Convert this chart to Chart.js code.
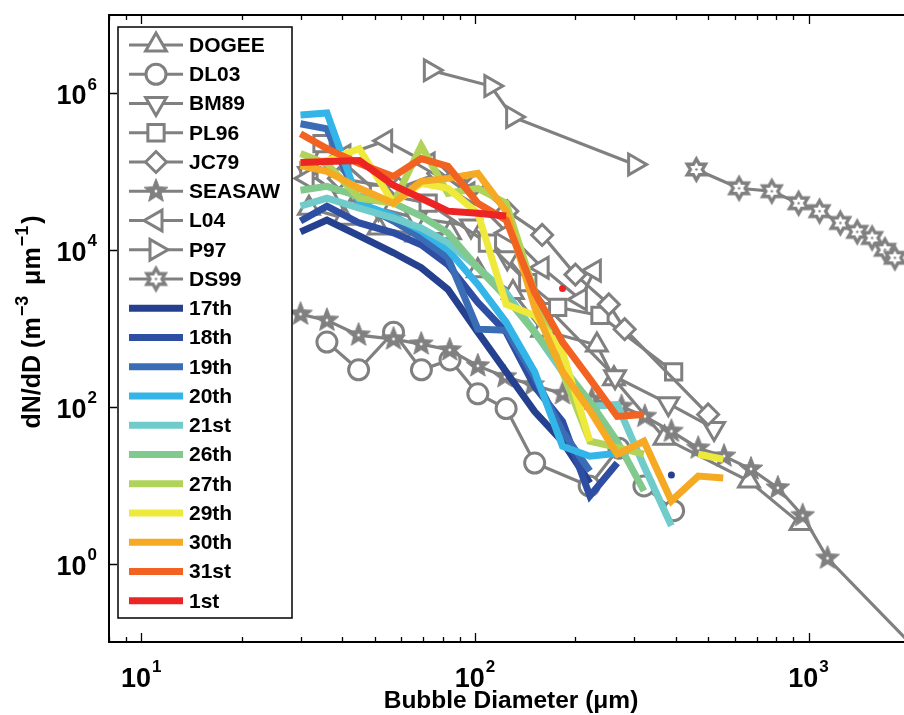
<!DOCTYPE html>
<html><head><meta charset="utf-8">
<script src="https://cdn.jsdelivr.net/npm/chart.js@4/dist/chart.umd.min.js"></script>
<style>html,body{margin:0;padding:0;background:#fff;overflow:hidden}#wrap{position:relative;width:924px;height:715px}</style>
</head><body><div id="wrap"><canvas id="c" width="924" height="715"></canvas></div>
<script>
// ---- measured data (bubble diameter in µm, dN/dD in m^-3 µm^-1) ----
const bins = [30,36,45,57,69,83,102,124,151,183,221,267,321,388,467,555];
const n17 = [1.71e4,2.42e4,1.52e4,9.25e3,5.97e3,3.15e3,898,280,87,36,10.7,null,null,13.5,null,null];
const n18 = [2.35e4,3.64e4,2.22e4,1.66e4,1.17e4,6.52e3,2.15e3,898,181,65,7.3,19.2,null,null,null,null];
const n19 = [4.09e5,3.53e5,3.97e4,2.35e4,1.43e4,8.0e3,980,951,242,48.7,15.2,null,null,null,null,null];
const n20 = [5.31e5,5.63e5,3.97e4,2.72e4,1.76e4,1.01e4,3.64e3,1.2e3,280,31.5,23.5,25.6,null,null,null,null];
const n21 = [3.64e4,4.59e4,3.43e4,2.56e4,1.92e4,1.24e4,5.97e3,2.88e3,898,280,101,107,17.6,3.05,null,null];
const n26 = [5.8e4,6.52e4,4.87e4,3.97e4,2.72e4,1.66e4,5.97e3,2.49e3,898,324,117,36.4,8.47,null,null,null];
const n27 = [1.71e5,1.27e5,4.59e4,3.97e4,2.15e5,5.31e4,6.15e4,3.97e4,2.88e3,280,36.4,30.4,24.9,null,null,null];
const n29 = [1.27e5,1.39e5,1.97e5,3.97e4,7.11e4,6.15e4,2.96e4,2.03e3,1.47e3,501,36.4,null,null,null,24.9,21.5];
const n30 = [1.2e5,1.01e5,6.15e4,3.97e4,7.54e4,8.23e4,9.52e4,3.14e4,1.86e3,280,90,24.9,36.4,6.33,13.1,12.4];
const n31 = [3.05e5,1.97e5,1.27e5,8.72e4,1.47e5,1.17e5,3.97e4,2.42e4,2.88e3,671,228,75.4,80,null,null,null];
const n1  = [1.31e5,1.35e5,1.39e5,6.71e4,4.59e4,3.14e4,2.96e4,2.72e4,null,3.24e3,null,null,null,null,null,null];

const dogeeD = [31.8,40.5,51.4,66.7,84.2,102,130,159,232,261,370,663,946];
const dogeeN = [3.43e4,2.56e4,1.92e4,1.56e4,1.66e4,5.47e3,2.88e3,951,615,228,39.7,11.3,3.24];
const dl03D = [36,44.8,57,69.1,84.2,102,124,151,220,270,321,394];
const dl03N = [671,297,898,297,397,147,95.2,19.2,9.8,29.7,9.8,4.73];
const bm89D = [31.8,40.5,51.4,66.7,97.3,125,167,263,380,521];
const bm89N = [9.52e4,4.59e4,3.43e4,2.56e4,2.03e4,8.0e3,1.75e3,242,110,53.1];
const pl96D = [31.8,34.8,51.4,72.4,109,144,177,237,394];
const pl96N = [1.04e5,2.28e5,5.31e4,3.97e4,1.23e4,3.85e3,1.86e3,1.47e3,280];
const jc79D = [39.1,59,77.6,100.7,125,159,200,252,281,500];
const jc79N = [8.23e4,6.15e4,9.52e4,7.11e4,3.14e4,1.56e4,4.87e3,2.03e3,980,80];
const seasawD = [30,36,44.8,57,69,84,102,123,149,183,224,275,323,388,467,558,672,809,960,1140,2000];
const seasawN = [1.52e3,1.27e3,823,733,633,531,333,242,191,147,124,101,75.4,48.7,29.7,23.5,16.1,9.25,4.09,1.17,0.1];
const l04D = [31.4,40.5,54,72.4,95.3,125,159,207,228];
const l04N = [8.23e4,1.61e5,2.49e5,1.27e5,5.31e4,1.66e4,5.97e3,2.35e3,5.47e3];
const p97D = [73.5,111.6,129.7,301];
const p97N = [1.97e6,1.24e6,5.0e5,1.24e5];
const ds99D = [461,619,776,934,1079,1245,1399,1550,1694,1815];
const ds99N = [1.07e5,6.15e4,5.64e4,3.97e4,3.14e4,2.22e4,1.71e4,1.43e4,1.01e4,7.98e3];

const xTicks = [10,100,1000];
const yTicks = [1,100,1e4,1e6];

// ---- styles ----
const GRAY = '#808080';
const FONT = '"Liberation Sans", Arial, Helvetica, sans-serif';

function starCanvas(points, outer, inner, fill, stroke, lw, dot, dotColor){
  const s = Math.ceil(outer*2 + lw + 4);
  const c = document.createElement('canvas'); c.width = s; c.height = s;
  const g = c.getContext('2d'); g.translate(s/2, s/2);
  g.beginPath();
  for (let i = 0; i < points*2; i++) {
    const r = i % 2 ? inner : outer;
    const a = -Math.PI/2 + i*Math.PI/points;
    g.lineTo(r*Math.cos(a), r*Math.sin(a));
  }
  g.closePath();
  g.fillStyle = fill; g.fill();
  if (stroke) { g.lineJoin = 'miter'; g.strokeStyle = stroke; g.lineWidth = lw; g.stroke(); }
  if (dot) { g.fillStyle = dotColor; g.beginPath(); g.arc(0,0,dot,0,Math.PI*2); g.fill(); }
  return c;
}
const pentagram = starCanvas(5, 12.5, 5.4, GRAY, GRAY, 1, 1.4, '#fff');
const hexagram = starCanvas(6, 10.5, 6, '#fff', GRAY, 3.4, 1.2, GRAY);

const zip = (xs, ys) => xs.map((v, i) => ({x: v, y: ys[i]}));

const grayDefs = [
  {label:'DOGEE', d:dogeeD, n:dogeeN, style:'triangle', rot:0, r:12},
  {label:'DL03', d:dl03D, n:dl03N, style:'circle', rot:0, r:10},
  {label:'BM89', d:bm89D, n:bm89N, style:'triangle', rot:180, r:12},
  {label:'PL96', d:pl96D, n:pl96N, style:'rect', rot:0, r:11.5},
  {label:'JC79', d:jc79D, n:jc79N, style:'rectRot', rot:0, r:10.5},
  {label:'SEASAW', d:seasawD, n:seasawN, style:pentagram, rot:0, r:10},
  {label:'L04', d:l04D, n:l04N, style:'triangle', rot:-90, r:12},
  {label:'P97', d:p97D, n:p97N, style:'triangle', rot:90, r:12},
  {label:'DS99', d:ds99D, n:ds99N, style:hexagram, rot:0, r:10},
];
const colorDefs = [
  {label:'17th', n:n17, c:'#24408f'},
  {label:'18th', n:n18, c:'#2d4ea3'},
  {label:'19th', n:n19, c:'#3b6cb6'},
  {label:'20th', n:n20, c:'#33b5e8'},
  {label:'21st', n:n21, c:'#6fcccb'},
  {label:'26th', n:n26, c:'#82c98e'},
  {label:'27th', n:n27, c:'#b1d35a'},
  {label:'29th', n:n29, c:'#efe93b'},
  {label:'30th', n:n30, c:'#f6a923'},
  {label:'31st', n:n31, c:'#f26322'},
  {label:'1st', n:n1, c:'#ed2424'},
];

const total = grayDefs.length + colorDefs.length;
const datasets = [];
grayDefs.forEach((g, i) => {
  const last = g.d.length - 1;
  datasets.push({
    label: g.label, data: zip(g.d, g.n),
    borderColor: GRAY, borderWidth: 3.2, tension: 0, fill: false,
    pointStyle: g.style, pointRotation: g.rot,
    pointRadius: (g.label === 'SEASAW') ? (ctx => ctx.dataIndex === last ? 0 : g.r) : g.r,
    pointBorderWidth: 3, pointBorderColor: GRAY, pointBackgroundColor: '#fff',
    order: total - i, clip: 0
  });
});
colorDefs.forEach((s, j) => {
  datasets.push({
    label: s.label, data: zip(bins, s.n),
    borderColor: s.c, backgroundColor: s.c, borderWidth: 7, tension: 0, fill: false,
    borderCapStyle: 'butt', borderJoinStyle: 'miter', spanGaps: false,
    pointStyle: 'circle', pointBorderWidth: 0, pointBackgroundColor: s.c,
    pointRadius: ctx => {
      const d = ctx.dataset.data, i = ctx.dataIndex;
      if (d[i].y == null) return 0;
      const p = i > 0 && d[i-1].y != null, q = i < d.length-1 && d[i+1].y != null;
      return (!p && !q) ? 3.5 : 0;
    },
    order: total - grayDefs.length - j, clip: 0
  });
});

function drawSupLabel(ctx, base, sup, x, y, align, bigSize, supSize){
  ctx.font = 'bold ' + bigSize + 'px ' + FONT;
  const wb = ctx.measureText(base).width;
  ctx.font = 'bold ' + supSize + 'px ' + FONT;
  const ws = ctx.measureText(sup).width;
  const w = wb + ws + 1;
  let x0 = align === 'center' ? x - w/2 : (align === 'right' ? x - w : x);
  ctx.textAlign = 'left'; ctx.textBaseline = 'alphabetic';
  ctx.font = 'bold ' + bigSize + 'px ' + FONT;
  ctx.fillText(base, x0, y);
  ctx.font = 'bold ' + supSize + 'px ' + FONT;
  ctx.fillText(sup, x0 + wb + 1, y - bigSize*0.55);
}

const decor = {
  id: 'decor',
  afterDraw(chart) {
    const ctx = chart.ctx, a = chart.chartArea, xs = chart.scales.x, ys = chart.scales.y;
    ctx.save();
    // frame
    ctx.strokeStyle = '#000'; ctx.lineWidth = 2;
    ctx.beginPath();
    ctx.moveTo(a.right + 10, a.top); ctx.lineTo(a.left, a.top);
    ctx.lineTo(a.left, a.bottom); ctx.lineTo(a.right + 10, a.bottom);
    ctx.stroke();
    // x ticks (major + minor), inside, bottom and top
    ctx.lineWidth = 1.3;
    ctx.beginPath();
    for (let dec = 1; dec <= 1000; dec *= 10) {
      for (let m = 1; m <= 9; m++) {
        const v = m * dec;
        if (v < xs.min || v > xs.max) continue;
        const px = Math.round(xs.getPixelForValue(v)) + 0.5;
        const len = m === 1 ? 9 : 5;
        ctx.moveTo(px, a.bottom); ctx.lineTo(px, a.bottom - len);
        ctx.moveTo(px, a.top); ctx.lineTo(px, a.top + len);
      }
    }
    yTicks.forEach(v => {
      const py = Math.round(ys.getPixelForValue(v)) + 0.5;
      ctx.moveTo(a.left, py); ctx.lineTo(a.left + 8, py);
    });
    ctx.stroke();
    // tick labels
    ctx.fillStyle = '#000';
    xTicks.forEach(v => {
      const px = xs.getPixelForValue(v);
      drawSupLabel(ctx, '10', String(Math.round(Math.log10(v))), px, 687, 'center', 27, 17);
    });
    yTicks.forEach(v => {
      const py = ys.getPixelForValue(v);
      drawSupLabel(ctx, '10', String(Math.round(Math.log10(v))), 97, py + 11, 'right', 27, 17);
    });
    // x title
    ctx.font = 'bold 24.5px ' + FONT; ctx.textAlign = 'center'; ctx.textBaseline = 'alphabetic';
    ctx.fillText('Bubble Diameter (\u03bcm)', 511, 708);
    // y title (rotated) with superscripts
    ctx.save();
    ctx.translate(40, 322); ctx.rotate(-Math.PI/2);
    const parts = [['dN/dD (m', 25, 0, 1], ['\u22123', 18, -12, 4], [' \u03bcm', 25, 0, 1], ['\u22121', 18, -12, 2], [')', 25, 0, 0]];
    let tw = 0;
    parts.forEach(p => { ctx.font = 'bold ' + p[1] + 'px ' + FONT; tw += ctx.measureText(p[0]).width + p[3]; });
    let cx = -tw/2;
    ctx.textAlign = 'left';
    parts.forEach(p => { ctx.font = 'bold ' + p[1] + 'px ' + FONT; ctx.fillText(p[0], cx, p[2]); cx += ctx.measureText(p[0]).width + p[3]; });
    ctx.restore();
    // legend
    const lx = 118, ly = 27, lw = 174, lh = 591;
    ctx.fillStyle = '#fff'; ctx.fillRect(lx, ly, lw, lh);
    ctx.strokeStyle = '#000'; ctx.lineWidth = 1.5; ctx.strokeRect(lx, ly, lw, lh);
    const all = grayDefs.map(g => ({label: g.label, gray: true, g})).concat(colorDefs.map(s => ({label: s.label, gray: false, s})));
    all.forEach((e, k) => {
      const cy = 45 + k * 29.25;
      ctx.lineCap = 'butt';
      if (e.gray) {
        ctx.strokeStyle = GRAY; ctx.lineWidth = 3.2;
        ctx.beginPath(); ctx.moveTo(129, cy); ctx.lineTo(183, cy); ctx.stroke();
        ctx.fillStyle = '#fff'; ctx.strokeStyle = GRAY; ctx.lineWidth = 3;
        Chart.helpers.drawPoint(ctx, {pointStyle: e.g.style, radius: e.g.r, rotation: e.g.rot, borderWidth: 3}, 156, cy);
      } else {
        ctx.strokeStyle = e.s.c; ctx.lineWidth = 7;
        ctx.beginPath(); ctx.moveTo(129, cy); ctx.lineTo(183, cy); ctx.stroke();
      }
      ctx.fillStyle = '#000'; ctx.font = 'bold 21px ' + FONT; ctx.textAlign = 'left'; ctx.textBaseline = 'middle';
      ctx.fillText(e.label, 189, cy + 1);
    });
    ctx.restore();
  }
};

new Chart(document.getElementById('c'), {
  type: 'line',
  data: { datasets },
  options: {
    responsive: false, animation: false, events: [],
    layout: { padding: { top: 10, right: 10, left: 0, bottom: 0 } },
    plugins: { legend: { display: false }, tooltip: { enabled: false } },
    scales: {
      x: { type: 'logarithmic', min: 8, max: 2000, grid: { display: false }, border: { display: false },
           ticks: { display: false }, afterFit: s => { s.height = 73; } },
      y: { type: 'logarithmic', min: 0.1, max: 1e7, grid: { display: false }, border: { display: false },
           ticks: { display: false }, afterFit: s => { s.width = 109; } }
    }
  },
  plugins: [decor]
});
</script>
</body></html>
